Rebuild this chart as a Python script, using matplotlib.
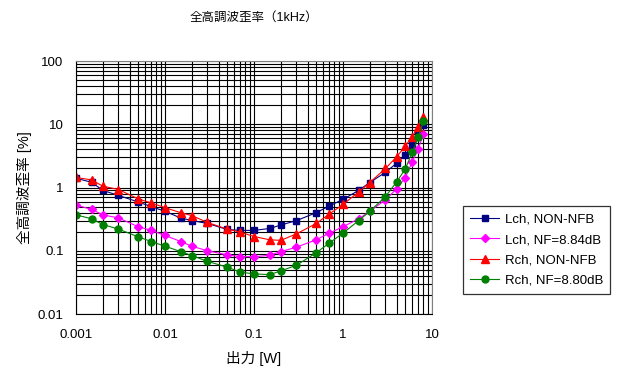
import matplotlib
matplotlib.use('Agg')
import matplotlib.pyplot as plt
import matplotlib.ticker as mticker

plt.rcParams['font.family'] = ['Liberation Sans', 'Noto Sans CJK JP', 'DejaVu Sans']

# output power [W]
power = [0.001, 0.0015, 0.002, 0.003, 0.005, 0.007, 0.01, 0.015, 0.02, 0.03,
         0.05, 0.07, 0.1, 0.15, 0.2, 0.3, 0.5, 0.7, 1, 1.5, 2, 3, 4, 5, 6, 7, 8]

# THD [%]
lch_non_nfb = [1.40, 1.21, 0.90, 0.75, 0.59, 0.50, 0.42, 0.33, 0.30, 0.27,
               0.217, 0.21, 0.21, 0.225, 0.255, 0.30, 0.40, 0.51, 0.65,
               0.90, 1.20, 1.74, 2.42, 3.25, 4.75, 7.4, 9.7]
lch_nf = [0.53, 0.45, 0.37, 0.33, 0.24, 0.21, 0.175, 0.14, 0.118, 0.10,
          0.086, 0.081, 0.080, 0.085, 0.097, 0.114, 0.149, 0.19, 0.24,
          0.32, 0.42, 0.64, 0.95, 1.43, 2.55, 4.1, 6.9]
rch_non_nfb = [1.44, 1.32, 1.05, 0.93, 0.66, 0.57, 0.48, 0.40, 0.36, 0.28,
               0.22, 0.197, 0.168, 0.149, 0.146, 0.185, 0.27, 0.38, 0.54,
               0.85, 1.20, 2.0, 3.05, 4.5, 6.4, 9.2, 13.2]
rch_nf = [0.37, 0.32, 0.26, 0.22, 0.166, 0.14, 0.118, 0.097, 0.084, 0.068,
          0.055, 0.046, 0.043, 0.042, 0.048, 0.059, 0.093, 0.132, 0.19,
          0.30, 0.42, 0.72, 1.22, 1.96, 3.6, 6.2, 11.1]

labels = ['Lch, NON-NFB', 'Lch, NF=8.84dB', 'Rch, NON-NFB', 'Rch, NF=8.80dB']

fig = plt.figure(figsize=(6.2, 3.79), dpi=100)
ax = fig.add_axes([0.1226, 0.1715, 0.5742, 0.6675])

ax.plot(power, lch_non_nfb, color='#000080', marker='s', markersize=4.5,
        linewidth=0.8, label=labels[0])
ax.plot(power, lch_nf, color='#ff00ff', marker='D', markersize=4,
        linewidth=0.8, label=labels[1])
ax.plot(power, rch_non_nfb, color='#ff0000', marker='^', markersize=5.2,
        linewidth=0.8, label=labels[2])
ax.plot(power, rch_nf, color='#008000', marker='o', markersize=5,
        linewidth=0.8, label=labels[3])

ax.set_xscale('log')
ax.set_yscale('log')
ax.set_xlim(0.001, 10)
ax.set_ylim(0.01, 100)

ax.xaxis.set_major_locator(mticker.LogLocator(base=10, numticks=10))
ax.yaxis.set_major_locator(mticker.LogLocator(base=10, numticks=10))
ax.xaxis.set_minor_locator(mticker.LogLocator(base=10, subs=range(2, 10), numticks=20))
ax.yaxis.set_minor_locator(mticker.LogLocator(base=10, subs=range(2, 10), numticks=20))
ax.xaxis.set_minor_formatter(mticker.NullFormatter())
ax.yaxis.set_minor_formatter(mticker.NullFormatter())
ax.xaxis.set_major_formatter(mticker.FuncFormatter(lambda v, p: f'{v:g}'))
ax.yaxis.set_major_formatter(mticker.FuncFormatter(lambda v, p: f'{v:g}'))

ax.grid(which='both', color='black', linewidth=0.8)
ax.set_axisbelow(True)
ax.tick_params(which='both', length=0, labelsize=9.5, colors='black')
ax.tick_params(axis='x', pad=11)
ax.tick_params(axis='y', pad=9)

for side in ('top', 'right'):
    ax.spines[side].set_edgecolor('#808080')
for side in ('left', 'bottom'):
    ax.spines[side].set_edgecolor('black')

ax.set_title('全高調波歪率（1kHz）', fontsize=9, pad=29)
ax.set_xlabel('出力 [W]', fontsize=10.5, labelpad=7)
ax.set_ylabel('全高調波歪率 [%]', fontsize=10.5, labelpad=4)

leg = ax.legend(loc='center left', bbox_to_anchor=(1.087, 0.253),
                fontsize=9.5, frameon=True, fancybox=False,
                edgecolor='black', borderpad=0.55, handlelength=2.2,
                handletextpad=0.4, labelspacing=0.6, borderaxespad=0)
leg.get_frame().set_linewidth(0.9)

fig.savefig('out.png', dpi=100)
